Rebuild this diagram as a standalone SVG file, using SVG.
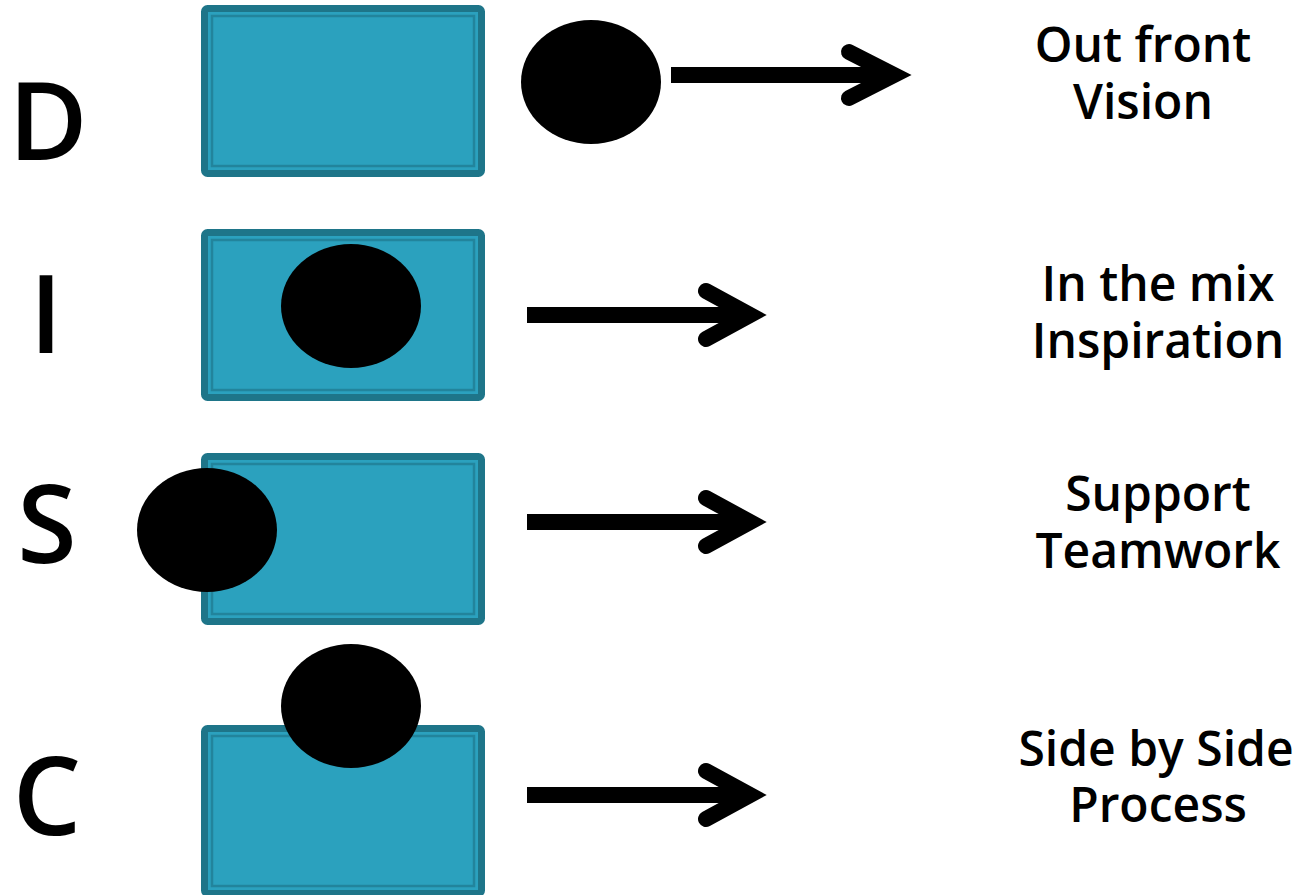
<svg xmlns="http://www.w3.org/2000/svg" width="1305" height="895" viewBox="0 0 1305 895">
  <style>
    .box { fill: #2ba1be; stroke: #1e7589; stroke-width: 7; }
    .inner { fill: none; stroke: #22849c; stroke-width: 2.5; }
    .dot { fill: #000; }
    .shaft { stroke: #000; stroke-width: 16; fill: none; }
    .head { stroke: #000; stroke-width: 16; fill: none; stroke-linecap: round; stroke-linejoin: miter; stroke-miterlimit: 10; }
    .letter { font-family: "Open Sans", "DejaVu Sans", sans-serif; font-weight: 600; font-size: 108px; fill: #000; text-anchor: middle; }
    .label { font-family: "Open Sans", "DejaVu Sans", sans-serif; font-weight: 600; font-size: 48px; fill: #000; text-anchor: middle; }
  </style>

  <!-- D row -->
  <g id="node-d">
    <text class="letter" x="48" y="160">D</text>
    <rect class="box" x="204.5" y="8.5" width="277" height="165" rx="3"/>
    <rect class="inner" x="212" y="16" width="262" height="150"/>
    <ellipse class="dot" cx="591" cy="82" rx="70" ry="62"/>
    <text class="label" x="1143" y="62">Out front</text>
    <text class="label" x="1143" y="119">Vision</text>
  </g>

  <!-- I row -->
  <g id="node-i">
    <text class="letter" x="46" y="353">I</text>
    <rect class="box" x="204.5" y="232.5" width="277" height="165" rx="3"/>
    <rect class="inner" x="212" y="240" width="262" height="150"/>
    <ellipse class="dot" cx="351" cy="306" rx="70" ry="62"/>
    <text class="label" x="1158" y="301">In the mix</text>
    <text class="label" x="1158" y="358">Inspiration</text>
  </g>

  <!-- S row -->
  <g id="node-s">
    <text class="letter" x="47" y="563">S</text>
    <rect class="box" x="204.5" y="456.5" width="277" height="165" rx="3"/>
    <rect class="inner" x="212" y="464" width="262" height="150"/>
    <ellipse class="dot" cx="207" cy="530" rx="70" ry="62"/>
    <text class="label" x="1158" y="511">Support</text>
    <text class="label" x="1158" y="568">Teamwork</text>
  </g>

  <!-- C row -->
  <g id="node-c">
    <text class="letter" x="47" y="835">C</text>
    <rect class="box" x="204.5" y="728.5" width="277" height="165" rx="3"/>
    <rect class="inner" x="212" y="736" width="262" height="150"/>
    <ellipse class="dot" cx="351" cy="706" rx="70" ry="62"/>
    <text class="label" x="1156" y="766">Side by Side</text>
    <text class="label" x="1158" y="822">Process</text>
  </g>

  <!-- arrows -->
  <g id="connectors">
    <line class="shaft" x1="671" y1="75" x2="893" y2="75"/>
    <polyline class="head" points="849,52 894,75 849,98"/>

    <line class="shaft" x1="527" y1="315" x2="749" y2="315"/>
    <polyline class="head" points="706,291 750,315 706,339"/>

    <line class="shaft" x1="527" y1="522" x2="749" y2="522"/>
    <polyline class="head" points="706,498 750,522 706,546"/>

    <line class="shaft" x1="527" y1="795" x2="749" y2="795"/>
    <polyline class="head" points="706,771 750,795 706,819"/>
  </g>
</svg>
